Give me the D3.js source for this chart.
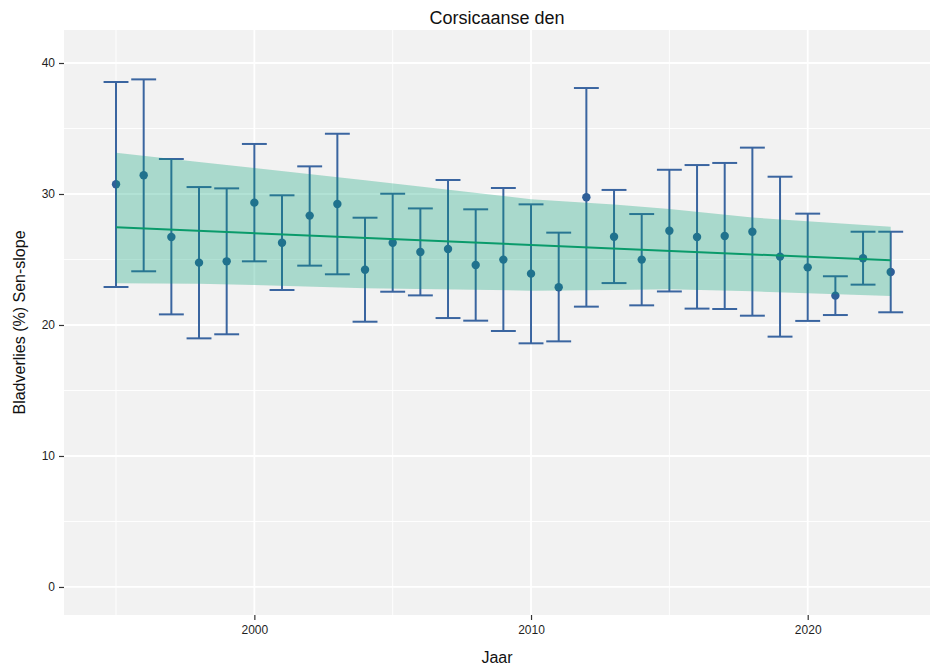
<!DOCTYPE html>
<html>
<head>
<meta charset="utf-8">
<script src="https://cdn.jsdelivr.net/npm/d3@7"></script>
<style>
  html, body { margin: 0; padding: 0; background: #ffffff; }
  svg { display: block; font-family: "Liberation Sans", Arial, Helvetica, sans-serif; }
</style>
</head>
<body>
<svg id="chart" width="931" height="668"></svg>
<script>
// Yearly defoliation estimates with their interval bounds
const years = [1995,1996,1997,1998,1999,2000,2001,2002,2003,2004,2005,2006,2007,2008,2009,
               2010,2011,2012,2013,2014,2015,2016,2017,2018,2019,2020,2021,2022,2023];
const estimate = [30.74,31.43,26.72,24.76,24.86,29.34,26.28,28.35,29.24,24.22,26.28,25.57,25.80,24.58,24.99,
                  23.92,22.88,29.75,26.74,24.99,27.20,26.72,26.79,27.12,25.22,24.40,22.24,25.09,24.05];
const lower = [22.90,24.10,20.81,18.98,19.29,24.86,22.67,24.53,23.87,20.25,22.54,22.26,20.53,20.33,19.54,
               18.60,18.75,21.40,23.20,21.50,22.56,21.25,21.22,20.71,19.11,20.31,20.76,23.08,20.97];
const upper = [38.55,38.75,32.67,30.53,30.43,33.82,29.90,32.11,34.60,28.19,30.02,28.90,31.07,28.83,30.46,
               29.21,27.05,38.09,30.31,28.47,31.85,32.21,32.37,33.54,31.32,28.50,23.72,27.12,27.12];

// Sen-slope trend line and its confidence band
const trendYears = [1995, 2023];
const trendValues = [27.46, 24.94];
const bandYears = [1995, 1998, 2000, 2004, 2010, 2013, 2015, 2018, 2023];
const bandUpper = [33.15, 32.45, 31.98, 31.05, 29.60, 29.20, 28.85, 28.20, 27.50];
const bandLower = [23.18, 23.15, 23.05, 22.80, 22.62, 22.68, 22.72, 22.57, 22.21];

const yTicks = [0, 10, 20, 30, 40];
const yMinor = [5, 15, 25, 35];
const xTicks = [2000, 2010, 2020];
const xMinor = [1995, 2005, 2015];

const title = "Corsicaanse den";
const xTitle = "Jaar";
const yTitle = "Bladverlies (%) Sen-slope";

const svg = d3.select("#chart");
const panel = { left: 64, right: 930, top: 30, bottom: 615 };

const x = d3.scaleLinear().domain([1993.12, 2024.42]).range([panel.left, panel.right]);
const y = d3.scaleLinear().domain([-2.14, 42.52]).range([panel.bottom, panel.top]);

// panel background
svg.append("rect")
  .attr("x", panel.left).attr("y", panel.top)
  .attr("width", panel.right - panel.left).attr("height", panel.bottom - panel.top)
  .attr("fill", "#f2f2f2");

const grid = svg.append("g");
grid.selectAll(".ymin").data(yMinor).join("line")
  .attr("x1", panel.left).attr("x2", panel.right)
  .attr("y1", d => y(d)).attr("y2", d => y(d))
  .attr("stroke", "#ffffff").attr("stroke-width", 0.9);
grid.selectAll(".xmin").data(xMinor).join("line")
  .attr("y1", panel.top).attr("y2", panel.bottom)
  .attr("x1", d => x(d)).attr("x2", d => x(d))
  .attr("stroke", "#ffffff").attr("stroke-width", 0.9);
grid.selectAll(".ymaj").data(yTicks).join("line")
  .attr("x1", panel.left).attr("x2", panel.right)
  .attr("y1", d => y(d)).attr("y2", d => y(d))
  .attr("stroke", "#ffffff").attr("stroke-width", 1.8);
grid.selectAll(".xmaj").data(xTicks).join("line")
  .attr("y1", panel.top).attr("y2", panel.bottom)
  .attr("x1", d => x(d)).attr("x2", d => x(d))
  .attr("stroke", "#ffffff").attr("stroke-width", 1.8);

// error bars
const barColor = "#3a65a0";
const capHalf = 0.45;
const rows = years.map((yr, i) => ({ yr, est: estimate[i], lo: lower[i], hi: upper[i] }));
const bars = svg.append("g").attr("stroke", barColor).attr("stroke-width", 2).attr("fill", "none");
bars.selectAll(".v").data(rows).join("line")
  .attr("x1", d => x(d.yr)).attr("x2", d => x(d.yr))
  .attr("y1", d => y(d.lo)).attr("y2", d => y(d.hi));
bars.selectAll(".ct").data(rows).join("line")
  .attr("x1", d => x(d.yr - capHalf)).attr("x2", d => x(d.yr + capHalf))
  .attr("y1", d => y(d.hi)).attr("y2", d => y(d.hi));
bars.selectAll(".cb").data(rows).join("line")
  .attr("x1", d => x(d.yr - capHalf)).attr("x2", d => x(d.yr + capHalf))
  .attr("y1", d => y(d.lo)).attr("y2", d => y(d.lo));

// point estimates
svg.append("g").selectAll("circle").data(rows).join("circle")
  .attr("cx", d => x(d.yr)).attr("cy", d => y(d.est)).attr("r", 4.2)
  .attr("fill", "#2f5f98");

// confidence band
const band = bandYears.map((yr, i) => ({ yr, lo: bandLower[i], hi: bandUpper[i] }));
svg.append("path").datum(band)
  .attr("d", d3.area().x(d => x(d.yr)).y0(d => y(d.lo)).y1(d => y(d.hi)))
  .attr("fill", "#009e73").attr("fill-opacity", 0.3);

// trend line
const trend = trendYears.map((yr, i) => ({ yr, v: trendValues[i] }));
svg.append("path").datum(trend)
  .attr("d", d3.line().x(d => x(d.yr)).y(d => y(d.v)))
  .attr("fill", "none").attr("stroke", "#0a9b6b").attr("stroke-width", 2);

// axes
const textColor = "#1f1f1f";
const yAxis = svg.append("g").attr("transform", `translate(${panel.left},0)`)
  .call(d3.axisLeft(y).tickValues(yTicks).tickSize(5).tickPadding(4));
const xAxis = svg.append("g").attr("transform", `translate(0,${panel.bottom})`)
  .call(d3.axisBottom(x).tickValues(xTicks).tickFormat(d3.format("d")).tickSize(5).tickPadding(5));
[yAxis, xAxis].forEach(g => {
  g.select(".domain").remove();
  g.selectAll(".tick line").attr("stroke", "#333333").attr("stroke-width", 1.2);
  g.selectAll(".tick text").attr("fill", textColor).style("font-size", "12px");
});

// titles
svg.append("text")
  .attr("x", (panel.left + panel.right) / 2).attr("y", 24)
  .attr("text-anchor", "middle").attr("fill", "#111")
  .style("font-size", "18px").text(title);
svg.append("text")
  .attr("x", (panel.left + panel.right) / 2).attr("y", 663)
  .attr("text-anchor", "middle").attr("fill", "#111")
  .style("font-size", "16px").text(xTitle);
svg.append("text")
  .attr("transform", `translate(25,${(panel.top + panel.bottom) / 2}) rotate(-90)`)
  .attr("text-anchor", "middle").attr("fill", "#111")
  .style("font-size", "16px").text(yTitle);
</script>
</body>
</html>
